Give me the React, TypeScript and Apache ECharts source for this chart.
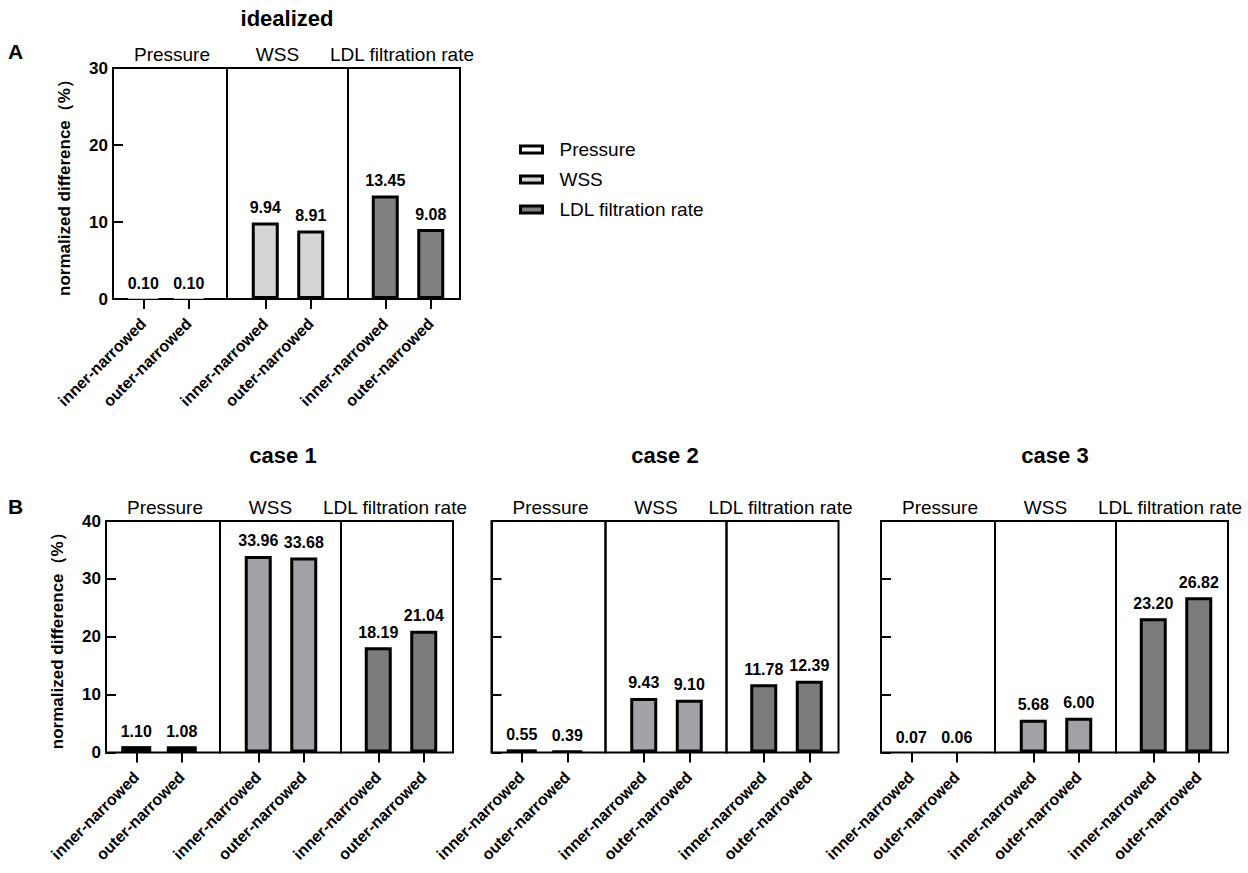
import React, { useEffect, useRef } from "react";
import * as echarts from "echarts";

// ---- data ----
const panelTitles = ["idealized", "case 1", "case 2", "case 3"];
const panelLetters = ["A", "B"];
const groupNames = ["Pressure", "WSS", "LDL filtration rate"];
const barCategories = ["inner-narrowed", "outer-narrowed"];
const yAxisName = "normalized difference（%）";

const idealizedPressure = [0.1, 0.1];
const idealizedWSS = [9.94, 8.91];
const idealizedLDL = [13.45, 9.08];

const case1Pressure = [1.1, 1.08];
const case1WSS = [33.96, 33.68];
const case1LDL = [18.19, 21.04];

const case2Pressure = [0.55, 0.39];
const case2WSS = [9.43, 9.1];
const case2LDL = [11.78, 12.39];

const case3Pressure = [0.07, 0.06];
const case3WSS = [5.68, 6.0];
const case3LDL = [23.2, 26.82];

const yMaxIdealized = 30;
const yMaxCases = 40;
const yInterval = 10;

// ---- layout / style ----
const FONT = '"Liberation Sans", Arial, Helvetica, sans-serif';
const PANEL_W = 347;
const sections = [
  { frameLeft: 0, frameWidth: 114, barLeft: 7.5, titleShift: 2 },
  { frameLeft: 114, frameWidth: 121, barLeft: 129.5, titleShift: -10 },
  { frameLeft: 235, frameWidth: PANEL_W - 235, barLeft: 249.5, titleShift: -2 },
];
const BAR_GRID_W = 91;

const colorsA = ["#ffffff", "#d4d4d4", "#808080"];
const colorsB = ["#000000", "#a2a2a6", "#7c7c7c"];

const panels = [
  { x0: 113, top: 68, height: 231, yMax: yMaxIdealized, yLabels: true, data: [idealizedPressure, idealizedWSS, idealizedLDL], colors: colorsA },
  { x0: 106, top: 521, height: 231.5, yMax: yMaxCases, yLabels: true, data: [case1Pressure, case1WSS, case1LDL], colors: colorsB },
  { x0: 491.5, top: 521, height: 231.5, yMax: yMaxCases, yLabels: false, data: [case2Pressure, case2WSS, case2LDL], colors: colorsB },
  { x0: 881, top: 521, height: 231.5, yMax: yMaxCases, yLabels: false, data: [case3Pressure, case3WSS, case3LDL], colors: colorsB },
];

const titlePos = [
  { left: 287, top: 7 },
  { left: 283, top: 444 },
  { left: 665, top: 444 },
  { left: 1055, top: 444 },
];
const letterPos = [
  { left: 8, top: 41 },
  { left: 8, top: 496 },
];

function buildOption() {
  const grid: any[] = [];
  const xAxis: any[] = [];
  const yAxis: any[] = [];
  const series: any[] = [];

  panels.forEach((p) => {
    sections.forEach((sec, si) => {
      // frame grid (border + group title + y axis)
      const fIdx = grid.length;
      grid.push({
        left: p.x0 + sec.frameLeft,
        top: p.top,
        width: sec.frameWidth,
        height: p.height,
        show: true,
        borderColor: "#000",
        borderWidth: 2,
        backgroundColor: "transparent",
      });
      xAxis.push({
        gridIndex: fIdx,
        type: "category",
        position: "top",
        data: [groupNames[si]],
        axisLine: { show: false },
        axisTick: { show: false },
        splitLine: { show: false },
        axisLabel: {
          margin: 4,
          fontSize: 19,
          color: "#000",
          fontFamily: FONT,
          padding: sec.titleShift < 0 ? [0, -2 * sec.titleShift, 0, 0] : [0, 0, 0, 2 * sec.titleShift],
        },
      });
      yAxis.push({
        gridIndex: fIdx,
        type: "value",
        min: 0,
        max: p.yMax,
        interval: yInterval,
        show: si === 0,
        axisLine: { show: true, lineStyle: { color: "#000", width: 2 } },
        axisTick: { show: true, inside: true, length: 10, lineStyle: { color: "#000", width: 2 } },
        splitLine: { show: false },
        axisLabel: {
          show: p.yLabels,
          margin: 5,
          fontSize: 17,
          fontWeight: "bold",
          color: "#000",
          fontFamily: FONT,
        },
        name: p.yLabels && si === 0 ? yAxisName : "",
        nameLocation: "middle",
        nameGap: 40,
        nameTextStyle: { fontSize: 17, fontWeight: "bold", color: "#000", fontFamily: FONT },
      });

      // bar grid
      const bIdx = grid.length;
      grid.push({
        left: p.x0 + sec.barLeft,
        top: p.top,
        width: BAR_GRID_W,
        height: p.height,
      });
      xAxis.push({
        gridIndex: bIdx,
        type: "category",
        data: barCategories,
        axisLine: { show: false },
        axisTick: { show: true, alignWithLabel: true, length: 10, lineStyle: { color: "#000", width: 2 } },
        splitLine: { show: false },
        axisLabel: {
          interval: 0,
          rotate: 45,
          margin: 22,
          fontSize: 16,
          fontWeight: "bold",
          color: "#000",
          fontFamily: FONT,
        },
      });
      yAxis.push({
        gridIndex: bIdx,
        type: "value",
        min: 0,
        max: p.yMax,
        interval: yInterval,
        show: false,
        splitLine: { show: false },
      });

      const isPressure = si === 0;
      series.push({
        type: "bar",
        name: groupNames[si],
        xAxisIndex: xAxis.length - 1,
        yAxisIndex: yAxis.length - 1,
        data: p.data[si],
        barWidth: isPressure ? 30 : 27,
        itemStyle: {
          color: p.colors[si],
          borderColor: "#000",
          borderWidth: isPressure ? 0 : 3,
        },
        label: {
          show: true,
          position: "top",
          distance: 7,
          fontSize: 16,
          fontWeight: "bold",
          color: "#000",
          fontFamily: FONT,
          formatter: (v: any) => Number(v.value).toFixed(2),
        },
      });
    });
  });

  const title: any[] = panelTitles.map((t, i) => ({
    text: t,
    left: titlePos[i].left,
    top: titlePos[i].top,
    textAlign: "center",
    padding: 0,
    textStyle: { fontSize: 22, fontWeight: "bold", color: "#000", fontFamily: FONT },
  }));
  panelLetters.forEach((l, i) => {
    title.push({
      text: l,
      left: letterPos[i].left,
      top: letterPos[i].top,
      padding: 0,
      textStyle: { fontSize: 21, fontWeight: "bold", color: "#000", fontFamily: FONT },
    });
  });

  return {
    animation: false,
    backgroundColor: "#ffffff",
    textStyle: { fontFamily: FONT },
    title,
    legend: {
      data: groupNames,
      orient: "vertical",
      left: 519,
      top: 140,
      padding: 0,
      itemWidth: 22,
      itemHeight: 7,
      itemGap: 11,
      icon: "rect",
      itemStyle: { borderColor: "#000", borderWidth: 3 },
      textStyle: { fontSize: 19, color: "#000", fontFamily: FONT, padding: [0, 0, 0, 12] },
    },
    grid,
    xAxis,
    yAxis,
    series,
  };
}

export default function App() {
  const ref = useRef<HTMLDivElement>(null);
  useEffect(() => {
    if (!ref.current) return;
    const chart = echarts.init(ref.current, undefined, { renderer: "svg" });
    chart.setOption(buildOption() as any);
    return () => chart.dispose();
  }, []);
  return (
    <div
      ref={ref}
      style={{ position: "absolute", left: 0, top: 0, width: 1248, height: 873, background: "#fff" }}
    />
  );
}
